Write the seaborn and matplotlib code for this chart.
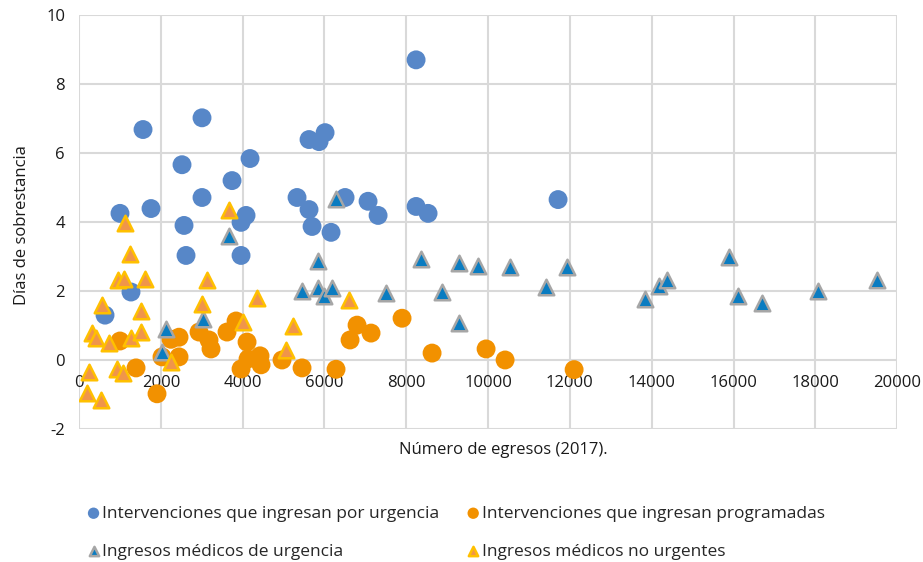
import numpy as np
import pandas as pd
import matplotlib
matplotlib.use("Agg")
import matplotlib.pyplot as plt
import seaborn as sns

# ---- data ----
urg_int_x = [636, 1002, 1565, 1760, 1271, 2518, 2567, 2616, 3007, 3007, 3741, 3961, 4083, 3961, 4181,
             5330, 5623, 5697, 5623, 5868, 6015, 6161, 6504, 7066, 7311, 8240, 8240, 8533, 11711]
urg_int_y = [1.30, 4.25, 6.68, 4.39, 1.97, 5.66, 3.90, 3.03, 7.02, 4.71, 5.20, 3.99, 4.19, 3.03, 5.84,
             4.71, 4.36, 3.87, 6.39, 6.33, 6.59, 3.70, 4.71, 4.60, 4.19, 8.70, 4.45, 4.25, 4.65]

prog_int_x = [1002, 1394, 1907, 2029, 2249, 2445, 2445, 2934, 3178, 3227, 3618, 3839, 4108, 3961, 4132,
              4425, 4450, 4963, 5452, 6283, 6626, 6797, 7139, 7897, 8631, 9951, 10416, 12103]
prog_int_y = [0.55, -0.23, -0.98, 0.09, 0.60, 0.66, 0.09, 0.81, 0.58, 0.32, 0.81, 1.13, 0.52, -0.26, 0.03,
              0.12, -0.14, 0.00, -0.23, -0.27, 0.58, 1.01, 0.78, 1.21, 0.20, 0.32, 0.00, -0.28]

urg_med_x = [2127, 2029, 3032, 3667, 5452, 5843, 5843, 5990, 6186, 6283, 7506, 8362, 8875, 9291, 9291,
             9756, 10538, 11418, 11931, 13839, 14181, 14377, 15892, 16112, 16699, 18068, 19511]
urg_med_y = [0.90, 0.23, 1.18, 3.58, 2.00, 2.86, 2.10, 1.85, 2.10, 4.68, 1.94, 2.92, 1.97, 2.80, 1.07,
             2.72, 2.69, 2.11, 2.69, 1.76, 2.14, 2.31, 2.98, 1.85, 1.65, 1.99, 2.31]

nourg_med_x = [1125, 1247, 954, 1100, 1614, 562, 1516, 318, 416, 733, 1271, 1516, 929, 1076, 244, 196, 538,
               2249, 3130, 3007, 3667, 4352, 4010, 5232, 5061, 6601]
nourg_med_y = [3.96, 3.06, 2.31, 2.34, 2.34, 1.59, 1.42, 0.78, 0.64, 0.49, 0.64, 0.81, -0.26, -0.38, -0.35,
               -0.95, -1.16, -0.06, 2.31, 1.62, 4.36, 1.79, 1.10, 0.98, 0.29, 1.73]

series_names = ["Intervenciones que ingresan por urgencia",
                "Intervenciones que ingresan programadas",
                "Ingresos médicos de urgencia",
                "Ingresos médicos no urgentes"]

x_ticks = [0, 2000, 4000, 6000, 8000, 10000, 12000, 14000, 16000, 18000, 20000]
y_ticks = [-2, 0, 2, 4, 6, 8, 10]

# ---- style ----
sns.set_theme(style="white")
plt.rcParams['font.family'] = ['Open Sans', 'DejaVu Sans']

fig = plt.figure(figsize=(9.23, 5.62), dpi=100)
ax = fig.add_axes([0.0856, 0.2367, 0.8864, 0.7366])

dfs = [
    pd.DataFrame({"x": urg_int_x, "y": urg_int_y}),
    pd.DataFrame({"x": prog_int_x, "y": prog_int_y}),
    pd.DataFrame({"x": urg_med_x, "y": urg_med_y}),
    pd.DataFrame({"x": nourg_med_x, "y": nourg_med_y}),
]
styles = [
    dict(marker="o", s=185, color="#5787C8", edgecolor="none", linewidth=0),
    dict(marker="o", s=185, color="#F29100", edgecolor="none", linewidth=0),
    dict(marker="^", s=125, color="#0A7CC1", edgecolor="#A6A6A6", linewidth=1.8),
    dict(marker="^", s=125, color="#F0954A", edgecolor="#FFC000", linewidth=1.8),
]
for df, st, name in zip(dfs, styles, series_names):
    sns.scatterplot(data=df, x="x", y="y", ax=ax, label=name, zorder=3, **st)

ax.set_xlim(0, 20000)
ax.set_ylim(-2, 10)
ax.set_xticks(x_ticks)
ax.set_yticks(y_ticks)
ax.set_xticklabels([str(v) for v in x_ticks])
ax.set_yticklabels([str(v) for v in y_ticks])
ax.grid(True, color="#D9D9D9", linewidth=1.5, zorder=0)
ax.set_axisbelow(True)
for sp in ["top", "right", "left"]:
    ax.spines[sp].set_visible(False)
ax.spines["bottom"].set_position(("data", 0))
ax.spines["bottom"].set_color("none")
ax.tick_params(axis="both", length=0, labelsize=12, colors="#1a1a1a")
ax.tick_params(axis="x", pad=11)
ax.tick_params(axis="y", pad=10)

ax.set_xlabel("")
ax.set_ylabel("")
fig.text(0.545, 1 - 450 / 562, "Número de egresos (2017).", ha="center", va="center", fontsize=12, color="#1a1a1a")
fig.text(22 / 923, 1 - 225 / 562, "Días de sobrestancia", ha="center", va="center", rotation=90,
         fontsize=12, color="#1a1a1a")

handles, labels = ax.get_legend_handles_labels()
order = [0, 2, 1, 3]
leg = fig.legend([handles[i] for i in order], [labels[i] for i in order], ncol=2,
                 loc="upper left", bbox_to_anchor=(0.075, 1 - 490 / 562), frameon=False,
                 fontsize=12.5, handletextpad=0.0, columnspacing=1.45, labelspacing=1.25,
                 markerscale=0.6, handlelength=1.0)
if ax.get_legend():
    ax.get_legend().remove()

fig.savefig("out.png", dpi=100)
